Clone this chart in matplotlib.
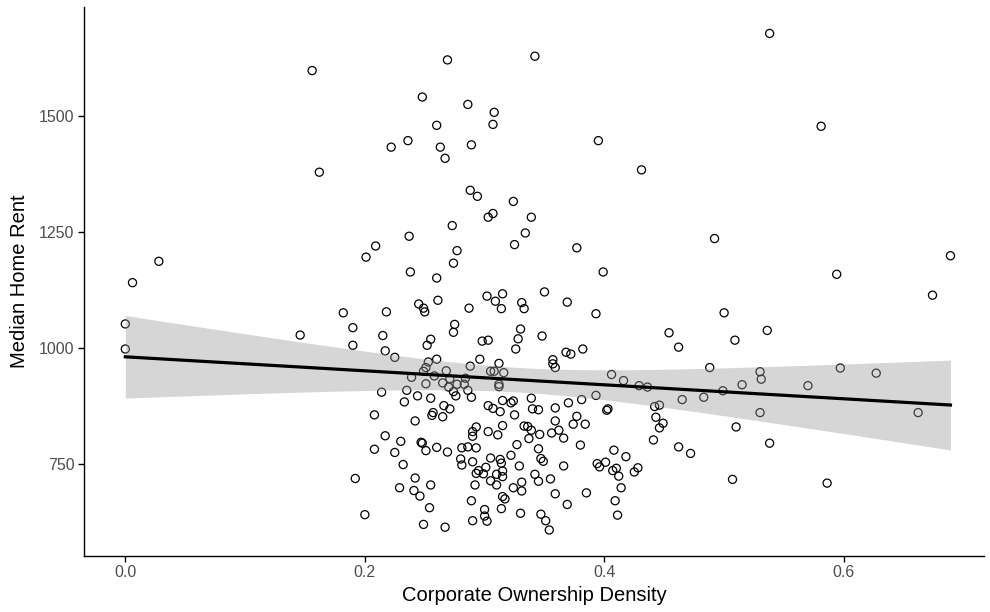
import numpy as np
import matplotlib
matplotlib.use("Agg")
import matplotlib.pyplot as plt

plt.rcParams['font.family'] = ['Liberation Sans', 'DejaVu Sans']

# corporate ownership density per area
corp_density = [
    0.156, 0.162,
    0.269, 0.342, 0.248, 0.286, 0.308, 0.307, 0.260, 0.236, 0.222, 0.263, 0.289, 0.267, 0.395, 0.431, 0.288, 0.294,
    0.538, 0.581, 0.492, 0.594, 0.689, 0.674,
    0.324, 0.307, 0.303, 0.339, 0.273, 0.334, 0.325, 0.377, 0.277, 0.274, 0.399, 0.260, 0.237, 0.238,
    0.028, 0.006, 0.000, 0.000, 0.146, 0.182, 0.190, 0.190, 0.201, 0.209,
    0.315, 0.302, 0.309, 0.350, 0.261, 0.245, 0.249, 0.250, 0.218, 0.287,
    0.314, 0.331, 0.333, 0.369, 0.393, 0.275, 0.274, 0.215, 0.255, 0.252,
    0.298, 0.303, 0.330, 0.328, 0.348, 0.326, 0.217, 0.454, 0.462, 0.368,
    0.372, 0.382, 0.225, 0.260, 0.253, 0.251, 0.249, 0.268, 0.288, 0.296,
    0.312, 0.305, 0.308, 0.316, 0.357, 0.357, 0.359, 0.406, 0.416, 0.429,
    0.436, 0.239, 0.258, 0.265, 0.251, 0.271, 0.277, 0.284, 0.283, 0.270,
    0.274, 0.286, 0.312, 0.312, 0.235, 0.214, 0.244, 0.255, 0.276, 0.289,
    0.233, 0.315, 0.322, 0.324, 0.339, 0.370, 0.381, 0.393, 0.266, 0.271,
    0.303, 0.307, 0.313, 0.340, 0.345, 0.359, 0.442, 0.446, 0.257, 0.256,
    0.265, 0.402, 0.403, 0.325, 0.377, 0.242, 0.359, 0.374, 0.384, 0.443,
    0.449, 0.446, 0.293, 0.290, 0.290, 0.315, 0.333, 0.336, 0.339, 0.303,
    0.311, 0.346, 0.356, 0.362, 0.366, 0.217, 0.230, 0.247, 0.248, 0.337,
    0.327, 0.380, 0.441, 0.462, 0.260, 0.251, 0.269, 0.281, 0.286, 0.293,
    0.345, 0.225, 0.408, 0.418, 0.322, 0.305, 0.313, 0.314, 0.280, 0.290,
    0.347, 0.349, 0.232, 0.281, 0.301, 0.329, 0.366, 0.394, 0.401, 0.396,
    0.410, 0.428,
    0.500, 0.536, 0.509, 0.488, 0.530, 0.531, 0.515, 0.499, 0.483, 0.465,
    0.570, 0.597, 0.627, 0.662, 0.530, 0.510, 0.538, 0.472, 0.507, 0.586,
    0.208, 0.208, 0.192, 0.200,
    0.242, 0.229, 0.241, 0.246, 0.255, 0.254, 0.249, 0.267, 0.293, 0.295,
    0.299, 0.315, 0.310, 0.315, 0.305, 0.310, 0.292, 0.324, 0.331, 0.331,
    0.315, 0.317, 0.314, 0.289, 0.300, 0.300, 0.302, 0.290, 0.330, 0.342,
    0.345, 0.355, 0.359, 0.369, 0.347, 0.351, 0.354, 0.385, 0.407, 0.412,
    0.414, 0.409, 0.411, 0.425,
]

# median home rent, same order
median_rent = [
    1598, 1379,
    1621, 1629, 1541, 1525, 1508, 1482, 1480, 1447, 1433, 1433, 1438, 1409, 1447, 1384, 1340, 1327,
    1678, 1478, 1236, 1159, 1199, 1114,
    1316, 1290, 1282, 1282, 1264, 1248, 1223, 1216, 1210, 1183, 1164, 1151, 1241, 1164,
    1187, 1141, 1052, 998, 1028, 1076, 1044, 1006, 1196, 1220,
    1117, 1112, 1101, 1121, 1103, 1095, 1086, 1078, 1078, 1086,
    1085, 1098, 1085, 1099, 1074, 1051, 1034, 1027, 1019, 1006,
    1015, 1017, 1041, 1020, 1026, 998, 994, 1033, 1002, 991,
    987, 998, 980, 976, 970, 958, 950, 951, 961, 976,
    967, 950, 950, 947, 975, 966, 958, 943, 930, 919,
    916, 937, 940, 925, 923, 934, 922, 935, 922, 916,
    906, 909, 922, 917, 909, 905, 897, 892, 897, 894,
    884, 887, 882, 886, 892, 882, 889, 898, 876, 869,
    876, 870, 863, 869, 867, 871, 874, 877, 861, 855,
    852, 866, 869, 856, 853, 843, 843, 836, 836, 851,
    838, 828, 830, 820, 810, 833, 832, 831, 823, 820,
    813, 814, 817, 823, 806, 811, 799, 797, 795, 805,
    792, 791, 802, 787, 786, 779, 776, 785, 787, 785,
    783, 775, 780, 766, 769, 763, 760, 752, 761, 755,
    762, 756, 749, 748, 743, 746, 746, 751, 754, 744,
    741, 742,
    1076, 1038, 1017, 958, 949, 933, 921, 908, 894, 889,
    919, 957, 946, 861, 861, 830, 795, 773, 717, 709,
    856, 782, 719, 641,
    720, 699, 693, 681, 705, 656, 620, 614, 730, 736,
    729, 735, 728, 723, 714, 705, 705, 699, 711, 692,
    680, 675, 654, 671, 652, 638, 627, 628, 644, 728,
    713, 718, 686, 663, 642, 628, 608, 688, 736, 724,
    699, 671, 640, 733,
]

x_ticks = [0.0, 0.2, 0.4, 0.6]
x_tick_labels = ["0.0", "0.2", "0.4", "0.6"]
y_ticks = [750, 1000, 1250, 1500]

x = np.array(corp_density)
y = np.array(median_rent, dtype=float)

# linear fit with 95% confidence band
n = len(x)
slope, intercept = np.polyfit(x, y, 1)
resid = y - (intercept + slope * x)
s = np.sqrt(np.sum(resid ** 2) / (n - 2))
sxx = np.sum((x - x.mean()) ** 2)
t_crit = 1.969
xs = np.linspace(x.min(), x.max(), 80)
fit = intercept + slope * xs
se = s * np.sqrt(1.0 / n + (xs - x.mean()) ** 2 / sxx)

fig = plt.figure(figsize=(9.9, 6.12), dpi=100)
ax = fig.add_axes([84 / 990, 1 - 555.5 / 612, 900 / 990, 548.5 / 612])

ax.scatter(x, y, s=34, facecolors='none', edgecolors='black', linewidths=0.9, zorder=2)
ax.fill_between(xs, fit - t_crit * se, fit + t_crit * se, color='#999999', alpha=0.4,
                linewidth=0, zorder=3)
ax.plot(xs, fit, color='black', linewidth=2.3, zorder=4)

ax.set_xlim(-0.0345, 0.717)
ax.set_ylim(553, 1735)
ax.set_xticks(x_ticks)
ax.set_xticklabels(x_tick_labels)
ax.set_yticks(y_ticks)

for side in ['top', 'right']:
    ax.spines[side].set_visible(False)
for side in ['left', 'bottom']:
    ax.spines[side].set_linewidth(1.0)
    ax.spines[side].set_color('black')

ax.tick_params(axis='both', direction='out', length=4, width=1.0, color='black',
               labelsize=11.5, labelcolor='#4D4D4D', pad=3)

ax.set_xlabel("Corporate Ownership Density", fontsize=14.5, color='black', labelpad=4)
ax.set_ylabel("Median Home Rent", fontsize=14.5, color='black', labelpad=7)

fig.savefig("out.png", dpi=100)
